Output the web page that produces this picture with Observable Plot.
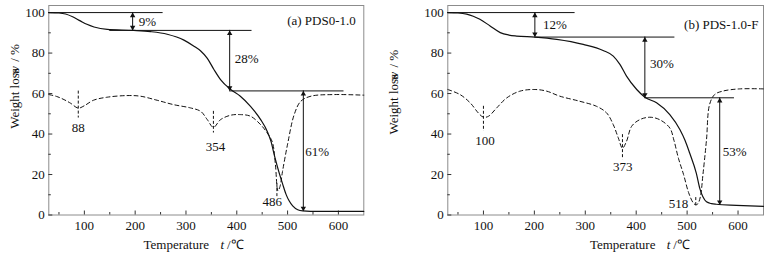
<!DOCTYPE html>
<html><head><meta charset="utf-8">
<script src="https://cdn.jsdelivr.net/npm/d3@7"></script>
<script src="https://cdn.jsdelivr.net/npm/@observablehq/plot@0.6"></script>
<style>
body{margin:0;background:#fff;}
#wrap{position:relative;width:773px;height:258px;}
.panel{position:absolute;top:0;}
</style></head><body><div id="wrap"></div>
<script>
// ---------- shared axes ----------
const xDomain = [30, 650];
const yDomain = [0, 103.5];
const xMajor = [100, 200, 300, 400, 500, 600];
const xMinor = [50, 150, 250, 350, 450, 550, 650];
const yMajor = [0, 20, 40, 60, 80, 100];
const yMinor = [10, 30, 50, 70, 90];

// ---------- panel (a) PDS0-1.0 ----------
const tgaA_T = [30,50,63,78,92,105,119,145,197,230,263,296,315,329,342,355,368,388,407,427,447,460,467,475,484,490,497,503,510,520,530,545,650];
const tgaA_W = [100,99.8,99.3,97.8,95.9,94.2,92.9,91.7,91.2,90.6,89.3,86.4,83.5,81,77.4,71.9,66.9,62,58.7,53.7,47.1,41.3,36.6,28.5,20.3,15.5,10.2,7,4.5,2.6,2,1.8,1.8];
const dtgA_T = [30,45,60,73,88,100,118,145,184,210,243,276,309,329,342,354,368,388,407,427,447,460,470,476,481,485,490,500,513,526,546,592,650];
const dtgA_W = [59.5,58.6,57,55.2,52.8,54,56.7,58.2,59,58.7,56.7,54.5,52.9,51.2,47.1,43.3,47.1,49.3,49.6,48.8,44.6,40.5,36,25,12,14,21.5,35,49.6,56.2,58.7,59.5,59.2];
const refA_y  = [100, 91.2, 61.3];
const refA_x1 = [30, 150, 386];
const refA_x2 = [255, 430, 611];
const arrA_x   = [195, 386, 531];
const arrA_top = [100, 91.2, 61.3];
const arrA_bot = [91.2, 61.3, 1.8];
const pctA   = ["9%", "28%", "61%"];
const pctA_x = [207, 396, 535];
const pctA_y = [95.3, 77, 31];
const peakA    = ["88", "354", "486"];
const peakA_x  = [88, 354, 479];
const peakA_y1 = [61.2, 51.2, 15.5];
const peakA_y2 = [47.9, 40.5, 9];
const peakLabA_x = [88, 358, 470];
const peakLabA_y = [43, 33.9, 6.3];
const titleA = "(a) PDS0-1.0";

// ---------- panel (b) PDS-1.0-F ----------
const tgaB_T = [30,50,67,80,93,113,133,150,165,201,244,296,335,355,368,381,401,417,440,466,486,496,505,518,525,531,538,548,557,597,650];
const tgaB_W = [100,99.8,99.2,98.2,96.7,93.4,90.1,88.9,88.4,87.9,86.8,84.3,81.3,78.5,74.4,68.6,62,58.2,55.4,49.6,42.1,36.8,30.6,20.7,13,9,6.5,5.6,5.3,4.8,4.3];
const dtgB_T = [30,54,74,90,100,110,126,146,172,201,224,250,289,322,342,355,365,373,381,391,407,427,446,466,474,483,493,503,512,517,521,526,531,538,544,554,570,603,650];
const dtgB_W = [62,59.5,55.4,50.4,48.3,48.8,52.9,57.9,61.2,62,61.2,58.7,56.2,53.7,50.4,44.6,38,33,36.4,43.8,47.1,48.3,47.1,43,37,28,20,11,6,5,5.5,9,19.8,37,54.5,59.5,61.2,62.3,62.3];
const refB_y  = [100, 87.9, 57.9];
const refB_x1 = [30, 201, 417];
const refB_x2 = [280, 476, 593];
const arrB_x   = [201, 417, 564];
const arrB_top = [100, 87.9, 57.9];
const arrB_bot = [87.9, 57.9, 4.9];
const pctB   = ["12%", "30%", "53%"];
const pctB_x = [217, 427, 570];
const pctB_y = [93.9, 74.7, 31];
const peakB    = ["100", "373", "518"];
const peakB_x  = [100, 373, 517];
const peakB_y1 = [53.7, 39.7, 8.6];
const peakB_y2 = [41.3, 27.3, 4.5];
const peakLabB_x = [103, 373.5, 483];
const peakLabB_y = [36.4, 23.6, 5.5];
const titleB = "(b) PDS-1.0-F";

const FONT = "Liberation Serif, Times New Roman, serif";

function panel(cfg) {
  const ink = "#111";
  return Plot.plot({
    width: cfg.width, height: 258,
    marginLeft: cfg.ml, marginRight: cfg.mr, marginTop: 5, marginBottom: 43.5,
    style: {fontFamily: FONT, fontSize: "13px", color: ink, background: "white"},
    x: {domain: xDomain},
    y: {domain: yDomain},
    marks: [
      Plot.frame({stroke: "#8c8c8c"}),
      Plot.axisX(xMajor, {tickSize: 0, tickPadding: 6, fontSize: 13, label: null}),
      Plot.axisY(yMajor, {tickSize: 0, tickPadding: 4, fontSize: 13, label: null}),
      Plot.ruleX(xMajor, {x: d => d, y1: yDomain[0], y2: yDomain[0], insetTop: -4, stroke: "#333"}),
      Plot.ruleX(xMinor.filter(d => d < 650), {x: d => d, y1: yDomain[0], y2: yDomain[0], insetTop: -2.5, stroke: "#333"}),
      Plot.ruleY(yMajor, {y: d => d, x1: xDomain[0], x2: xDomain[0], insetRight: -4, stroke: "#333"}),
      Plot.ruleY(yMinor, {y: d => d, x1: xDomain[0], x2: xDomain[0], insetRight: -2.5, stroke: "#333"}),
      // DTG (dashed)
      Plot.line(cfg.dT, {x: cfg.dT, y: cfg.dW, stroke: ink, strokeWidth: 1, strokeDasharray: "4,3", curve: "catmull-rom"}),
      Plot.ruleX(cfg.pkX, {x: cfg.pkX, y1: cfg.pkY1, y2: cfg.pkY2, stroke: ink, strokeWidth: 1, strokeDasharray: "3,2"}),
      // TGA (solid)
      Plot.line(cfg.tT, {x: cfg.tT, y: cfg.tW, stroke: ink, strokeWidth: 1.2, curve: "monotone-x"}),
      // reference levels and arrows
      Plot.ruleY(cfg.rY, {y: cfg.rY, x1: cfg.rX1, x2: cfg.rX2, stroke: ink, strokeWidth: 1}),
      Plot.ruleX(cfg.aX, {x: cfg.aX, y1: cfg.aTop, y2: cfg.aBot, stroke: ink, strokeWidth: 1}),
      Plot.dot(cfg.aX, {x: cfg.aX, y: cfg.aTop, symbol: "triangle", r: 2, fill: ink, stroke: "none", dy: 3.1}),
      Plot.dot(cfg.aX, {x: cfg.aX, y: cfg.aBot, symbol: "triangle", r: 2, fill: ink, stroke: "none", rotate: 180, dy: -3.1}),
      Plot.text(cfg.pct, {x: cfg.pctX, y: cfg.pctY, text: d => d, textAnchor: "start", fontSize: 13, fill: ink}),
      Plot.text(cfg.pk, {x: cfg.pkLX, y: cfg.pkLY, text: d => d, textAnchor: "middle", fontSize: 13, fill: ink}),
      Plot.text([cfg.title], {frameAnchor: "top-right", text: d => d, dx: cfg.titleDx, dy: cfg.titleDy, textAnchor: "end", lineAnchor: "middle", fontSize: 13, fill: ink}),
      // axis titles
      Plot.text(["Temperature"], {frameAnchor: "bottom", text: d => d, dx: cfg.tempDx, dy: 29.5, lineAnchor: "middle", fontSize: 13, fill: ink}),
      Plot.text(["t"], {frameAnchor: "bottom", text: d => d, dx: cfg.tempDx + 46, dy: 29.5, lineAnchor: "middle", fontSize: 13, fontStyle: "italic", fill: ink}),
      Plot.text(["/℃"], {frameAnchor: "bottom", text: d => d, dx: cfg.tempDx + 59, dy: 29.5, lineAnchor: "middle", fontSize: 13, fill: ink}),
      Plot.text(["Weight loss"], {frameAnchor: "left", text: d => d, dx: cfg.ylDx, dy: cfg.ylDy, rotate: -90, lineAnchor: "middle", fontSize: 13, fill: ink}),
      Plot.text(["w"], {frameAnchor: "left", text: d => d, dx: cfg.ylDx, dy: cfg.ylDy - 54, rotate: -90, lineAnchor: "middle", fontSize: 13, fontStyle: "italic", fill: ink}),
      Plot.text(["/ %"], {frameAnchor: "left", text: d => d, dx: cfg.ylDx, dy: cfg.ylDy - 67, rotate: -90, lineAnchor: "middle", fontSize: 13, fill: ink})
    ]
  });
}

const wrap = document.getElementById("wrap");
const a = panel({
  width: 383, ml: 48.3, mr: 19.7,
  tT: tgaA_T, tW: tgaA_W, dT: dtgA_T, dW: dtgA_W,
  rY: refA_y, rX1: refA_x1, rX2: refA_x2,
  aX: arrA_x, aTop: arrA_top, aBot: arrA_bot,
  pct: pctA, pctX: pctA_x, pctY: pctA_y,
  pk: peakA, pkX: peakA_x, pkY1: peakA_y1, pkY2: peakA_y2, pkLX: peakLabA_x, pkLY: peakLabA_y,
  title: titleA, titleDx: -8, titleDy: 15.5,
  tempDx: -30, ylDx: -33.5, ylDy: 18.6
});
const b = panel({
  width: 390, ml: 64.3, mr: 10,
  tT: tgaB_T, tW: tgaB_W, dT: dtgB_T, dW: dtgB_W,
  rY: refB_y, rX1: refB_x1, rX2: refB_x2,
  aX: arrB_x, aTop: arrB_top, aBot: arrB_bot,
  pct: pctB, pctX: pctB_x, pctY: pctB_y,
  pk: peakB, pkX: peakB_x, pkY1: peakB_y1, pkY2: peakB_y2, pkLX: peakLabB_x, pkLY: peakLabB_y,
  title: titleB, titleDx: -5, titleDy: 19.3,
  tempDx: 17, ylDx: -53.5, ylDy: 24.3
});
const da = document.createElement("div"); da.className = "panel"; da.style.left = "0px"; da.appendChild(a);
const db = document.createElement("div"); db.className = "panel"; db.style.left = "383px"; db.appendChild(b);
wrap.appendChild(da); wrap.appendChild(db);
</script>
</body></html>
